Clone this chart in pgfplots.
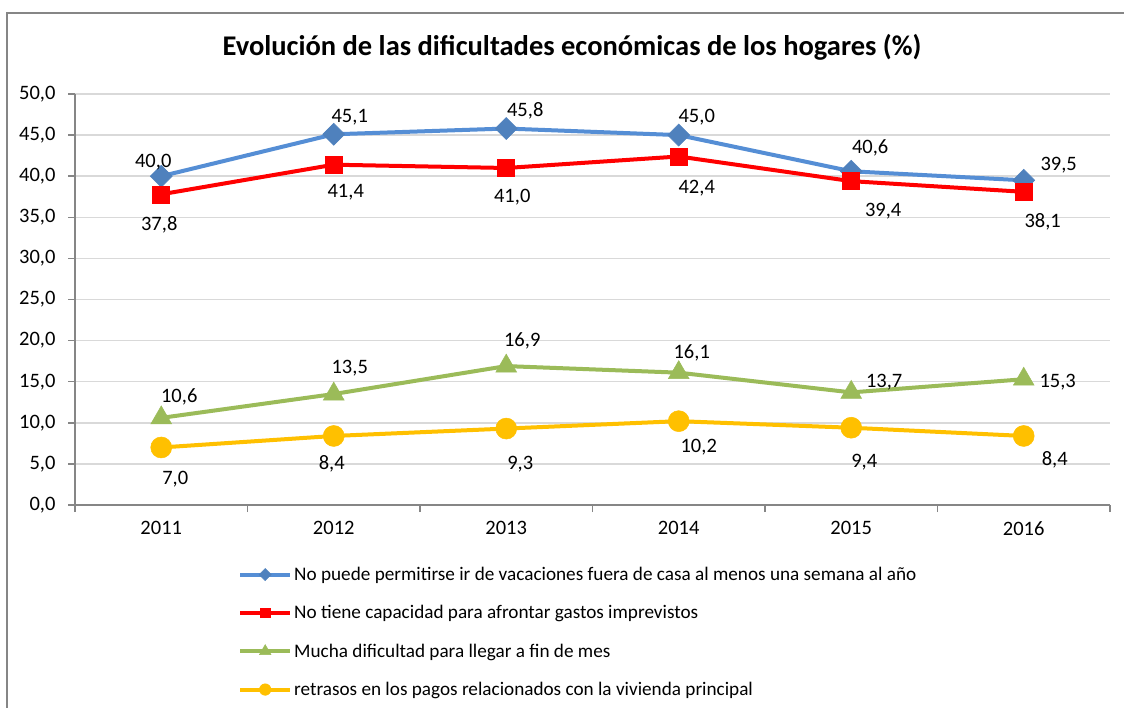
\documentclass[border=0pt]{standalone}
\usepackage{fontspec}
\setmainfont{Carlito}
\usepackage{pgfplots}
\pgfplotsset{compat=1.18}
\usepackage{pgfplotstable}

\definecolor{serA}{HTML}{558ED5}
\definecolor{serAm}{HTML}{4F81BD}
\definecolor{serB}{HTML}{FF0000}
\definecolor{serC}{HTML}{9BBB59}
\definecolor{serD}{HTML}{FFC000}
\definecolor{axgray}{HTML}{868686}
\definecolor{gridgray}{HTML}{D9D9D9}

\pgfplotstableread{
x y dx dy
2011 40.0 -8 15
2012 45.1 16 18
2013 45.8 19 19
2014 45.0 18 19
2015 40.6 19 25
2016 39.5 35 16
}\vac
\pgfplotstableread{
x y dx dy
2011 37.8 -2 -29
2012 41.4 12 -26
2013 41.0 6 -28
2014 42.4 18 -30
2015 39.4 32 -29
2016 38.1 19 -29
}\imprev
\pgfplotstableread{
x y dx dy
2011 10.6 18 22
2012 13.5 16 27
2013 16.9 16 27
2014 16.1 13 21
2015 13.7 33 12
2016 15.3 34 -2
}\finmes
\pgfplotstableread{
x y dx dy
2011 7.0 14 -30
2012 8.4 -2 -27
2013 9.3 14 -34
2014 10.2 20 -25
2015 9.4 13 -33
2016 8.4 31 -23
}\retrasos

\pgfplotsset{
  lbl/.style={
    point meta=y,
    nodes near coords,
    visualization depends on={\thisrow{dx}\as\dx},
    visualization depends on={\thisrow{dy}\as\dy},
    nodes near coords style={anchor=center, xshift=\dx*1bp, yshift=\dy*1bp, text=black, inner sep=0pt, text depth=0pt,
       font=\fontsize{20.5bp}{24bp}\selectfont,
       /pgf/number format/.cd, fixed, fixed zerofill, precision=1, use comma, assume math mode=true},
  },
  sA/.style={serA, line width=4bp, mark=square*, mark size=7.8bp,
    mark options={rotate=45, fill=serAm, draw=serAm, line width=0.5bp, solid}},
  sB/.style={serB, line width=4bp, mark=square*, mark size=8.5bp,
    mark options={fill=serB, draw=serB, line width=0.5bp, solid}},
  sC/.style={serC, line width=4bp, mark=triangle*, mark size=12bp,
    mark options={fill=serC, draw=serC, line width=0.5bp, solid}},
  sD/.style={serD, line width=4bp, mark=*, mark size=10.5bp,
    mark options={fill=serD, draw=serD, line width=0.5bp, solid}},
}

\begin{document}
\begin{tikzpicture}
\useasboundingbox (0bp,0bp) rectangle (1124bp,-708bp);
\fill[white] (0bp,0bp) rectangle (1124bp,-708bp);
\draw[axgray, line width=1.5bp] (7bp,-708bp) -- (7bp,-13bp) -- (1124bp,-13bp);
\node[font=\fontsize{28.5bp}{32bp}\selectfont\bfseries] at (572bp,-47bp) {Evolución de las dificultades económicas de los hogares (\%)};
\begin{axis}[
  at={(75bp,-505bp)}, anchor=south west,
  scale only axis, width=1035bp, height=411bp,
  xmin=2010.5, xmax=2016.5, ymin=0, ymax=50,
  clip=false,
  axis x line*=bottom, axis y line*=left,
  axis line style={axgray, line width=1.5bp, -},
  ymajorgrids, major grid style={gridgray, line width=1.5bp},
  ytick={0,5,...,50},
  xtick={2011,2012,2013,2014,2015,2016},
  xticklabels={2011,2012,2013,2014,2015,2016},
  minor xtick={2010.5,2011.5,2012.5,2013.5,2014.5,2015.5,2016.5},
  tick align=outside,
  major tick length=7bp, minor tick length=7bp,
  major x tick style={draw=none},
  minor x tick style={axgray, line width=1.5bp},
  major y tick style={axgray, line width=1.5bp},
  ticklabel style={font=\fontsize{20.5bp}{24bp}\selectfont},
  yticklabel style={xshift=-9bp, /pgf/number format/.cd, fixed, fixed zerofill, precision=1, use comma, assume math mode=true},
  xticklabel style={yshift=-6bp},
  legend style={at={(0.1575,-0.146)}, anchor=north west, draw=none, fill=none,
     font=\fontsize{19.2bp}{23bp}\selectfont, row sep=19.5bp, inner sep=0pt,
     /tikz/every even column/.append style={column sep=3bp}},
  legend cell align=left,
  legend image code/.code={\draw[mark repeat=2, mark phase=2, every mark/.append style={scale=0.55}] plot coordinates {(0bp,0bp) (25bp,0bp) (50bp,0bp)};},
]
\addplot[sA, lbl, forget plot] table[x=x,y=y] {\vac};
\addplot[sB, lbl, forget plot] table[x=x,y=y] {\imprev};
\addplot[sC, lbl, forget plot] table[x=x,y=y] {\finmes};
\addplot[sD, lbl, forget plot] table[x=x,y=y] {\retrasos};
\addlegendimage{sA}
\addlegendentry{No puede permitirse ir de vacaciones fuera de casa al menos una semana al año}
\addlegendimage{sB}
\addlegendentry{No tiene capacidad para afrontar gastos imprevistos}
\addlegendimage{sC}
\addlegendentry{Mucha dificultad para llegar a fin de mes}
\addlegendimage{sD}
\addlegendentry{retrasos en los pagos relacionados con la vivienda principal}
\end{axis}
\end{tikzpicture}
\end{document}
